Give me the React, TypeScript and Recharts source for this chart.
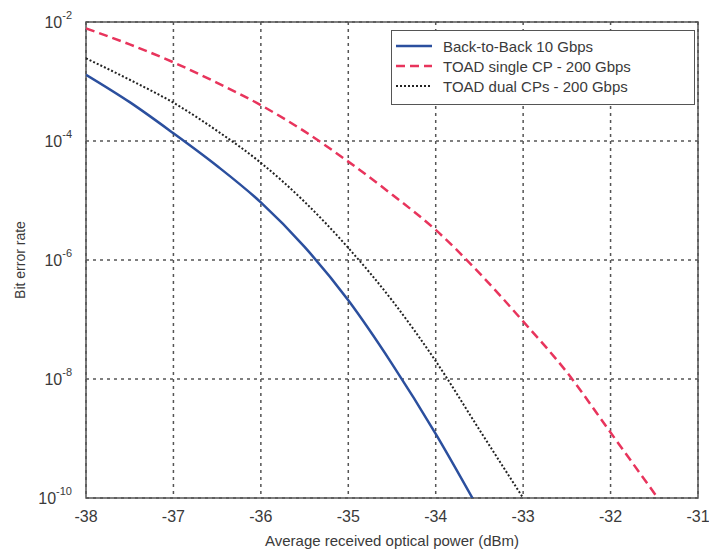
import React from "react"
import {
  LineChart,
  Line,
  XAxis,
  YAxis,
  CartesianGrid,
  ReferenceArea,
} from "recharts"

const X_TICKS = [-38, -37, -36, -35, -34, -33, -32, -31]
const Y_TICKS = [1e-10, 1e-8, 1e-6, 1e-4, 1e-2]

// Back-to-Back 10 Gbps
const b2bPower = [-38, -37.5, -37, -36.5, -36, -35.5, -35, -34.5, -34, -33.58]
const b2bBer = [1.3e-3, 4.5e-4, 1.35e-4, 3.8e-5, 9.3e-6, 1.66e-6, 2.1e-7, 1.8e-8, 1.2e-9, 1e-10]

// TOAD single CP - 200 Gbps
const singlePower = [-38, -37.5, -37, -36.5, -36, -35.5, -35, -34.5, -34, -33.5, -33, -32.5, -32, -31.46]
const singleBer = [7.8e-3, 4.2e-3, 2.1e-3, 9.5e-4, 4.0e-4, 1.45e-4, 4.5e-5, 1.26e-5, 3.2e-6, 6.0e-7, 9.3e-8, 1.3e-8, 1.26e-9, 1e-10]

// TOAD dual CPs - 200 Gbps
const dualPower = [-38, -37.5, -37, -36.5, -36, -35.5, -35, -34.5, -34, -33.5, -33]
const dualBer = [2.45e-3, 1.07e-3, 4.4e-4, 1.48e-4, 4.3e-5, 9.5e-6, 1.6e-6, 2.1e-7, 2.0e-8, 1.4e-9, 1e-10]

const SERIES = [
  { name: "Back-to-Back 10 Gbps", color: "#2b4f9e", dash: undefined, width: 2.5, x: b2bPower, y: b2bBer },
  { name: "TOAD single CP - 200 Gbps", color: "#e8345c", dash: "9 5", width: 2.5, x: singlePower, y: singleBer },
  { name: "TOAD dual CPs - 200 Gbps", color: "#222222", dash: "2 2", width: 2, x: dualPower, y: dualBer },
]

const toRows = (xs: number[], ys: number[]) => xs.map((p, i) => ({ p, ber: ys[i] }))

const FONT = "'Liberation Sans', Arial, sans-serif"
const TEXT = "#3a3a3a"

function YTick(props: any) {
  const { x, y, payload } = props
  const exp = Math.round(Math.log10(payload.value))
  return (
    <text x={x - 6} y={y + 6} textAnchor="end" fontFamily={FONT} fill={TEXT} fontSize={16}>
      <tspan>10</tspan>
      <tspan dy={-9} fontSize={11}>{exp}</tspan>
    </text>
  )
}

function LegendBox() {
  return (
    <div
      style={{
        position: "absolute",
        left: 391,
        top: 30,
        width: 304,
        height: 75,
        border: "1.5px solid #555",
        background: "#fff",
        fontFamily: FONT,
        fontSize: 15,
        color: TEXT,
        boxSizing: "border-box",
        padding: "5px 0 0 2px",
      }}
    >
      {SERIES.map((s) => (
        <div key={s.name} style={{ display: "flex", alignItems: "center", height: 20 }}>
          <svg width={40} height={10} style={{ marginRight: 9 }}>
            <line x1={2} y1={5} x2={38} y2={5} stroke={s.color} strokeWidth={s.width} strokeDasharray={s.dash} />
          </svg>
          <span>{s.name}</span>
        </div>
      ))}
    </div>
  )
}

export default function App() {
  return (
    <div style={{ position: "absolute", left: 0, top: 0, width: 709, height: 555, background: "#fff" }}>
      <LineChart width={709} height={555} margin={{ top: 22, right: 11, bottom: 0, left: 0 }}>
        <CartesianGrid stroke="#555" strokeDasharray="3 4" strokeWidth={1.5} />
        <XAxis
          dataKey="p"
          type="number"
          domain={[-38, -31]}
          ticks={X_TICKS}
          allowDataOverflow
          height={57}
          axisLine={false}
          tickLine={false}
          tick={{ fontSize: 16, fill: TEXT, fontFamily: FONT }}
          tickMargin={7}
          label={{ value: "Average received optical power (dBm)", position: "insideBottom", offset: 9, fontSize: 15, fill: TEXT, fontFamily: FONT }}
        />
        <YAxis
          dataKey="ber"
          type="number"
          scale="log"
          domain={[1e-10, 1e-2]}
          ticks={Y_TICKS}
          allowDataOverflow
          width={86}
          axisLine={false}
          tickLine={false}
          tick={<YTick />}
          label={{ value: "Bit error rate", angle: -90, position: "insideLeft", offset: 20, fontSize: 14, fill: TEXT, fontFamily: FONT, style: { textAnchor: "middle" } }}
        />
        <ReferenceArea x1={-38} x2={-31} y1={1e-10} y2={1e-2} fill="none" stroke="#555" strokeWidth={1.5} ifOverflow="visible" />
        {SERIES.map((s) => (
          <Line
            key={s.name}
            data={toRows(s.x, s.y)}
            dataKey="ber"
            name={s.name}
            type="monotone"
            stroke={s.color}
            strokeWidth={s.width}
            strokeDasharray={s.dash}
            dot={false}
            isAnimationActive={false}
          />
        ))}
      </LineChart>
      <LegendBox />
    </div>
  )
}
